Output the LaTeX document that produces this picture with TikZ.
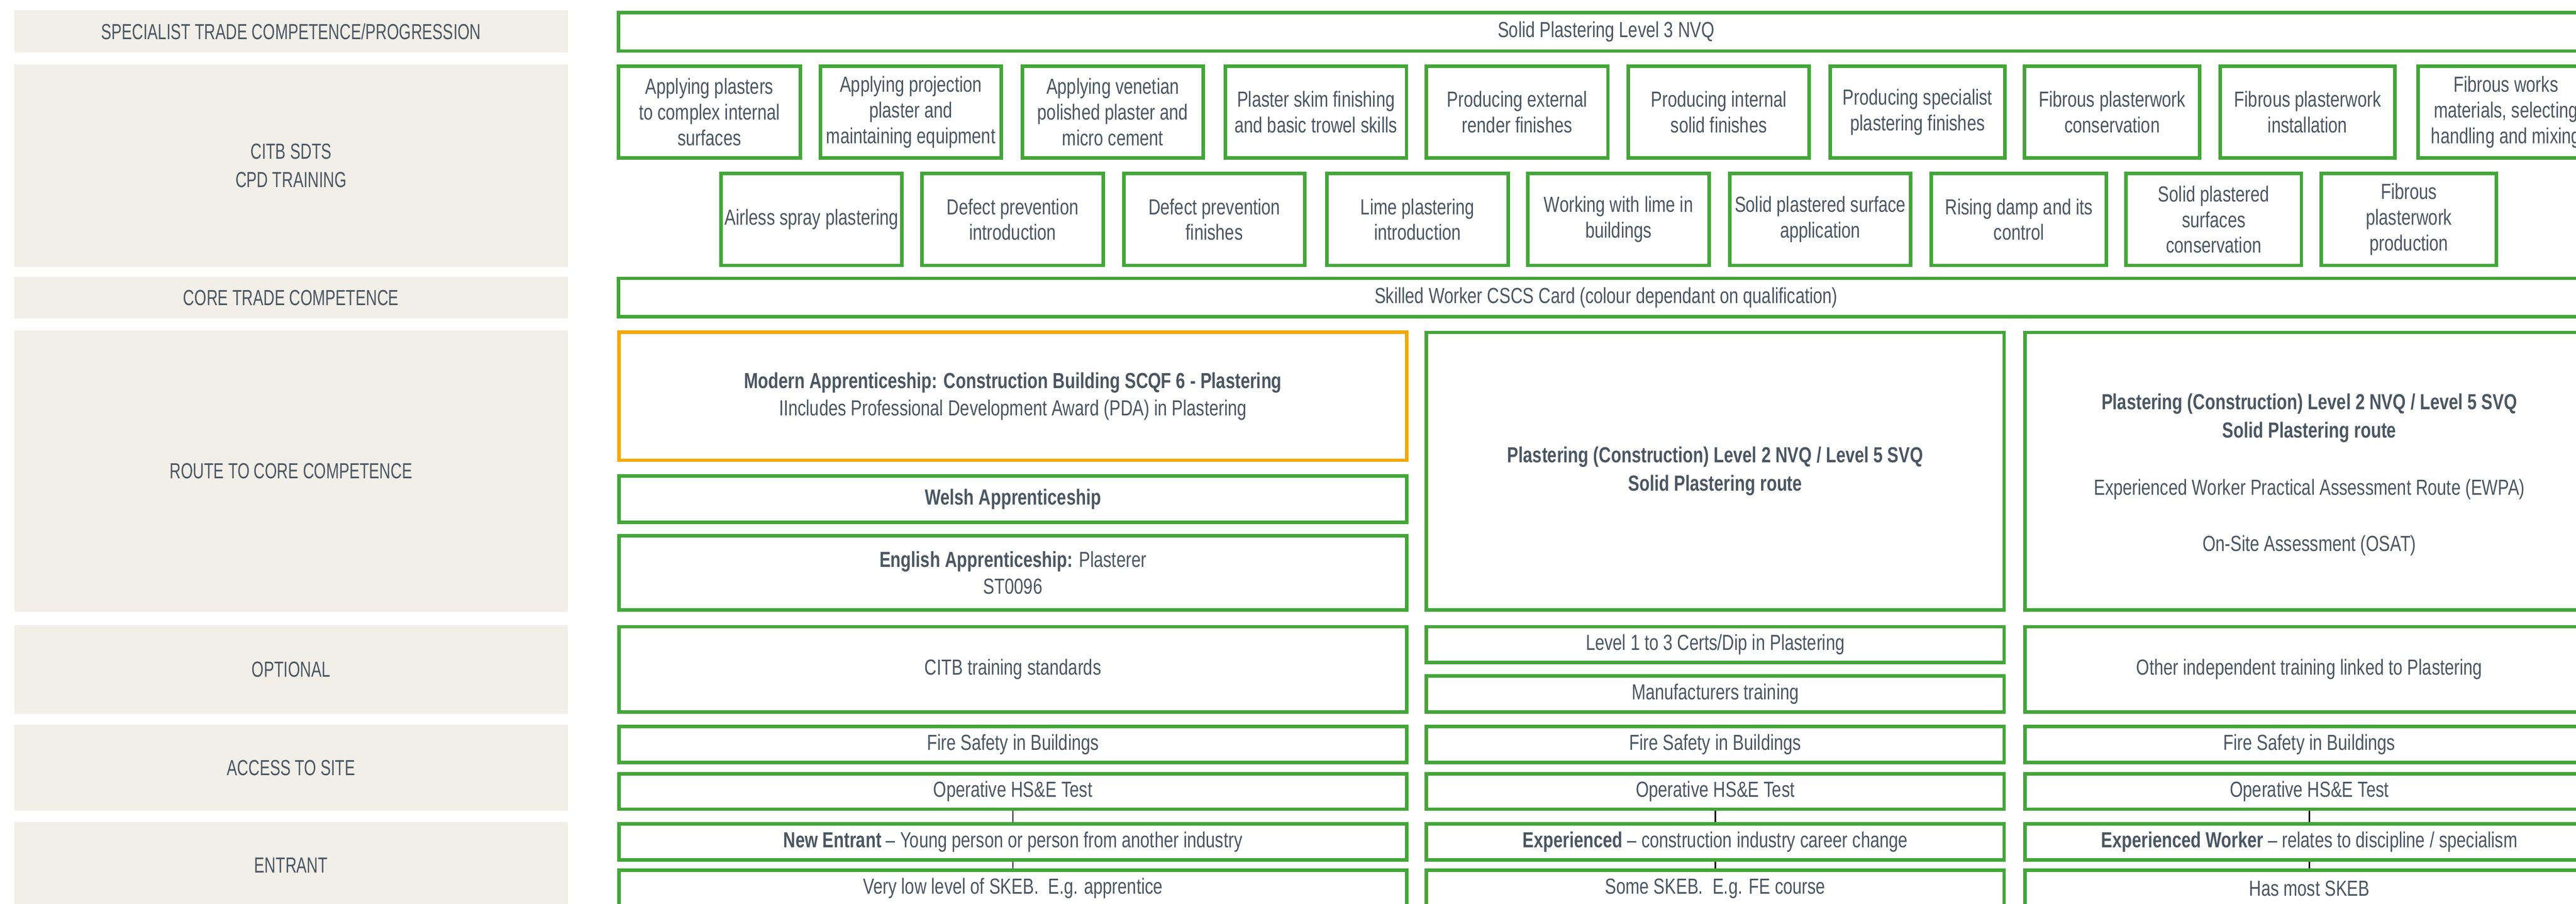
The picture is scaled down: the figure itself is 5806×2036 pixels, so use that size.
\documentclass[tikz,border=0pt]{standalone}
\usepackage{fontspec}
\setmainfont{Liberation Sans}[FakeStretch=0.77]
\newfontfamily\labelfont{Liberation Sans}[FakeStretch=0.71]
\usetikzlibrary{backgrounds}
\definecolor{grn}{HTML}{43A638}
\definecolor{org}{HTML}{F6A800}
\definecolor{lgray}{HTML}{F2EFE9}
\definecolor{txt}{HTML}{4A5662}
\newcommand\mainfs{\fontsize{14}{16.5}\selectfont}
\newcommand\labfs{\labelfont\fontsize{14}{18}\selectfont}
\tikzset{
  gbox/.style={draw=grn, line width=0.8mm, fill=white, text=txt, align=center, inner sep=0pt, font=\mainfs},
  obox/.style={gbox, draw=org},
  lbox/.style={fill=lgray, draw=none, text=txt, align=center, inner sep=0pt, font=\labfs},
  txtn/.style={text=txt, inner sep=0pt, font=\mainfs},
  conn/.style={draw=black, line width=0.3mm}
}
\newcommand\mkbox[7][gbox]{\node[#1,minimum width={(#5-#3-8)*0.1mm},minimum height={(#6-#4-8)*0.1mm}] (#2) at ({(#3+#5)/2},{(#4+#6)/2}) {#7};}
\newcommand\mklab[6]{\node[lbox,minimum width={(#4-#2)*0.1mm},minimum height={(#5-#3)*0.1mm}] (#1) at ({(#2+#4)/2},{(#3+#5)/2}) {#6};}
\begin{document}
\begin{tikzpicture}[x=0.1mm,y=-0.1mm]
\useasboundingbox (0,0) rectangle (5806,2036);
\clip (0,0) rectangle (5806,2036);
% left labels
\mklab{L1}{32}{23}{1280}{119}{SPECIALIST TRADE COMPETENCE/PROGRESSION}
\mklab{L2}{32}{145}{1280}{602}{CITB SDTS\\CPD TRAINING}
\mklab{L3}{32}{623}{1280}{718}{CORE TRADE COMPETENCE}
\mklab{L4}{32}{744}{1280}{1378}{ROUTE TO CORE COMPETENCE}
\mklab{L5}{32}{1408}{1280}{1608}{OPTIONAL}
\mklab{L6}{32}{1633}{1280}{1827}{ACCESS TO SITE}
\mklab{L7}{32}{1852}{1280}{2046}{ENTRANT}
% specialist
\mkbox{top}{1390}{24}{5850}{119}{Solid Plastering Level 3 NVQ}
% CPD row 1
\mkbox{c1}{1390}{145}{1808}{360}{Applying plasters\\to complex internal\\surfaces}
\mkbox{c2}{1845}{145}{2261}{360}{Applying projection\\plaster and\\maintaining equipment}
\mkbox{c3}{2300}{145}{2716}{360}{Applying venetian\\polished plaster and\\micro cement}
\mkbox{c4}{2758}{145}{3174}{360}{Plaster skim finishing\\and basic trowel skills}
\mkbox{c5}{3211}{145}{3628}{360}{Producing external\\render finishes}
\mkbox{c6}{3666}{145}{4082}{360}{Producing internal\\solid finishes}
\mkbox{c7}{4121}{145}{4523}{360}{Producing specialist\\plastering finishes}
\mkbox{c8}{4559}{145}{4962}{360}{Fibrous plasterwork\\conservation}
\mkbox{c9}{5000}{145}{5402}{360}{Fibrous plasterwork\\installation}
\mkbox{c10}{5446}{145}{5850}{360}{Fibrous works\\materials, selecting\\handling and mixing}
% CPD row 2
\mkbox{d1}{1621}{387}{2037}{602}{Airless spray plastering}
\mkbox{d2}{2074}{387}{2491}{602}{Defect prevention\\introduction}
\mkbox{d3}{2529}{387}{2945}{602}{Defect prevention\\finishes}
\mkbox{d4}{2987}{387}{3403}{602}{Lime plastering\\introduction}
\mkbox{d5}{3440}{387}{3856}{602}{Working with lime in\\buildings}
\mkbox{d6}{3895}{387}{4310}{602}{Solid plastered surface\\application}
\mkbox{d7}{4349}{387}{4752}{602}{Rising damp and its\\control}
\mkbox{d8}{4788}{387}{5191}{602}{Solid plastered\\surfaces\\conservation}
\mkbox{d9}{5228}{387}{5631}{602}{Fibrous\\plasterwork\\production}
% core
\mkbox{cscs}{1390}{623}{5850}{718}{Skilled Worker CSCS Card (colour dependant on qualification)}
% route
\mkbox[obox]{modern}{1391}{744}{3175}{1041}{\textbf{Modern Apprenticeship: Construction Building SCQF 6 - Plastering}\\[1pt]IIncludes Professional Development Award (PDA) in Plastering}
\mkbox{welsh}{1391}{1068}{3175}{1181}{\textbf{Welsh Apprenticeship}}
\mkbox{english}{1391}{1203}{3175}{1378}{\textbf{English Apprenticeship:} Plasterer\\[1pt]ST0096}
\mkbox{route2}{3211}{745}{4521}{1378}{\textbf{Plastering (Construction) Level 2 NVQ / Level 5 SVQ}\\[1.7pt]\textbf{Solid Plastering route}}
\mkbox{route3}{4560}{745}{5850}{1378}{}
\node[txtn, anchor=base] (r3a) at (5205,923) {\textbf{Plastering (Construction) Level 2 NVQ / Level 5 SVQ}};
\node[txtn, anchor=base] (r3b) at (5205,987) {\textbf{Solid Plastering route}};
\node[txtn, anchor=base] (r3c) at (5205,1115) {Experienced Worker Practical Assessment Route (EWPA)};
\node[txtn, anchor=base] (r3d) at (5205,1242) {On-Site Assessment (OSAT)};
% optional
\mkbox{opt1}{1391}{1408}{3175}{1608}{CITB training standards}
\mkbox{opt2a}{3211}{1408}{4521}{1497}{Level 1 to 3 Certs/Dip in Plastering}
\mkbox{opt2b}{3211}{1519}{4521}{1608}{Manufacturers training}
\mkbox{opt3}{4560}{1408}{5850}{1608}{Other independent training linked to Plastering}
% access
\mkbox{fire1}{1391}{1633}{3175}{1722}{Fire Safety in Buildings}
\mkbox{fire2}{3211}{1633}{4521}{1722}{Fire Safety in Buildings}
\mkbox{fire3}{4560}{1633}{5850}{1722}{Fire Safety in Buildings}
\mkbox{op1}{1391}{1739}{3175}{1827}{Operative HS\&E Test}
\mkbox{op2}{3211}{1739}{4521}{1827}{Operative HS\&E Test}
\mkbox{op3}{4560}{1739}{5850}{1827}{Operative HS\&E Test}
% entrant
\mkbox{ne1}{1391}{1852}{3175}{1941}{\textbf{New Entrant} -- Young person or person from another industry}
\mkbox{ne2}{3211}{1852}{4521}{1941}{\textbf{Experienced} -- construction industry career change}
\mkbox{ne3}{4560}{1852}{5850}{1941}{\textbf{Experienced Worker} -- relates to discipline / specialism}
\mkbox{sk1}{1391}{1957}{3175}{2046}{Very low level of SKEB.\ \ E.g. apprentice}
\mkbox{sk2}{3211}{1957}{4521}{2046}{Some SKEB.\ \ E.g. FE course}
\mkbox{sk3}{4560}{1957}{5850}{2046}{Has most SKEB}
% connectors
\begin{pgfonlayer}{background}
\draw[conn] (op1.south) -- (ne1.north);
\draw[conn] (ne1.south) -- (sk1.north);
\draw[conn] (op2.south) -- (ne2.north);
\draw[conn] (ne2.south) -- (sk2.north);
\draw[conn] (op3.south) -- (ne3.north);
\draw[conn] (ne3.south) -- (sk3.north);
\end{pgfonlayer}
\end{tikzpicture}
\end{document}
